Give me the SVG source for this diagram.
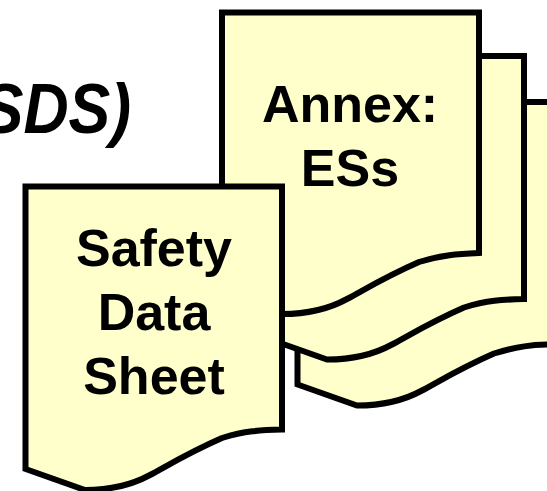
<svg xmlns="http://www.w3.org/2000/svg" width="547" height="491" viewBox="0 0 547 491">
<style>
.doc{fill:#FFFFCC;stroke:#000;stroke-width:6;stroke-linejoin:miter;stroke-miterlimit:4}
.t{font-family:"Liberation Sans",Arial,sans-serif;font-weight:700;font-size:52px;fill:#000;text-anchor:middle}
</style>
<rect width="547" height="491" fill="#fff"/>
<text x="131" y="133" font-family="'Liberation Sans',Arial,sans-serif" font-weight="700" font-style="italic" font-size="71" text-anchor="end" transform="translate(131 0) scale(.88 1) translate(-131 0)">SDS)</text>
<g id="doc-3">
<path class="doc" transform="translate(272 -84.5)" d="M25.5 186.5H300V429H282C260 429 245 431 222 438C190 452 172 463 150 475C130 486 110 490 85 490L25.5 469Z"/>
</g>
<g id="doc-2">
<path class="doc" transform="translate(242 -130.5)" d="M25.5 186.5H282V429.5C260 430 245 431 222 438C190 452 172 463 150 475C130 486 110 490 85 490L25.5 469Z"/>
</g>
<g id="doc-annex">
<path class="doc" d="M222 12.5H479V253C457 254 442 255 419 262C387 276 369 287 347 299C327 310 307 314 282 314L222 300Z"/>
<text class="t" x="350" y="122">Annex:</text>
<text class="t" x="350" y="186">ESs</text>
</g>
<g id="doc-safety">
<path class="doc" d="M25.5 186.5H282V429.5C260 430 245 431 222 438C190 452 172 463 150 475C130 486 110 490 85 490L25.5 469Z"/>
<text class="t" x="154" y="266">Safety</text>
<text class="t" x="154" y="330">Data</text>
<text class="t" x="154" y="394">Sheet</text>
</g>
</svg>
